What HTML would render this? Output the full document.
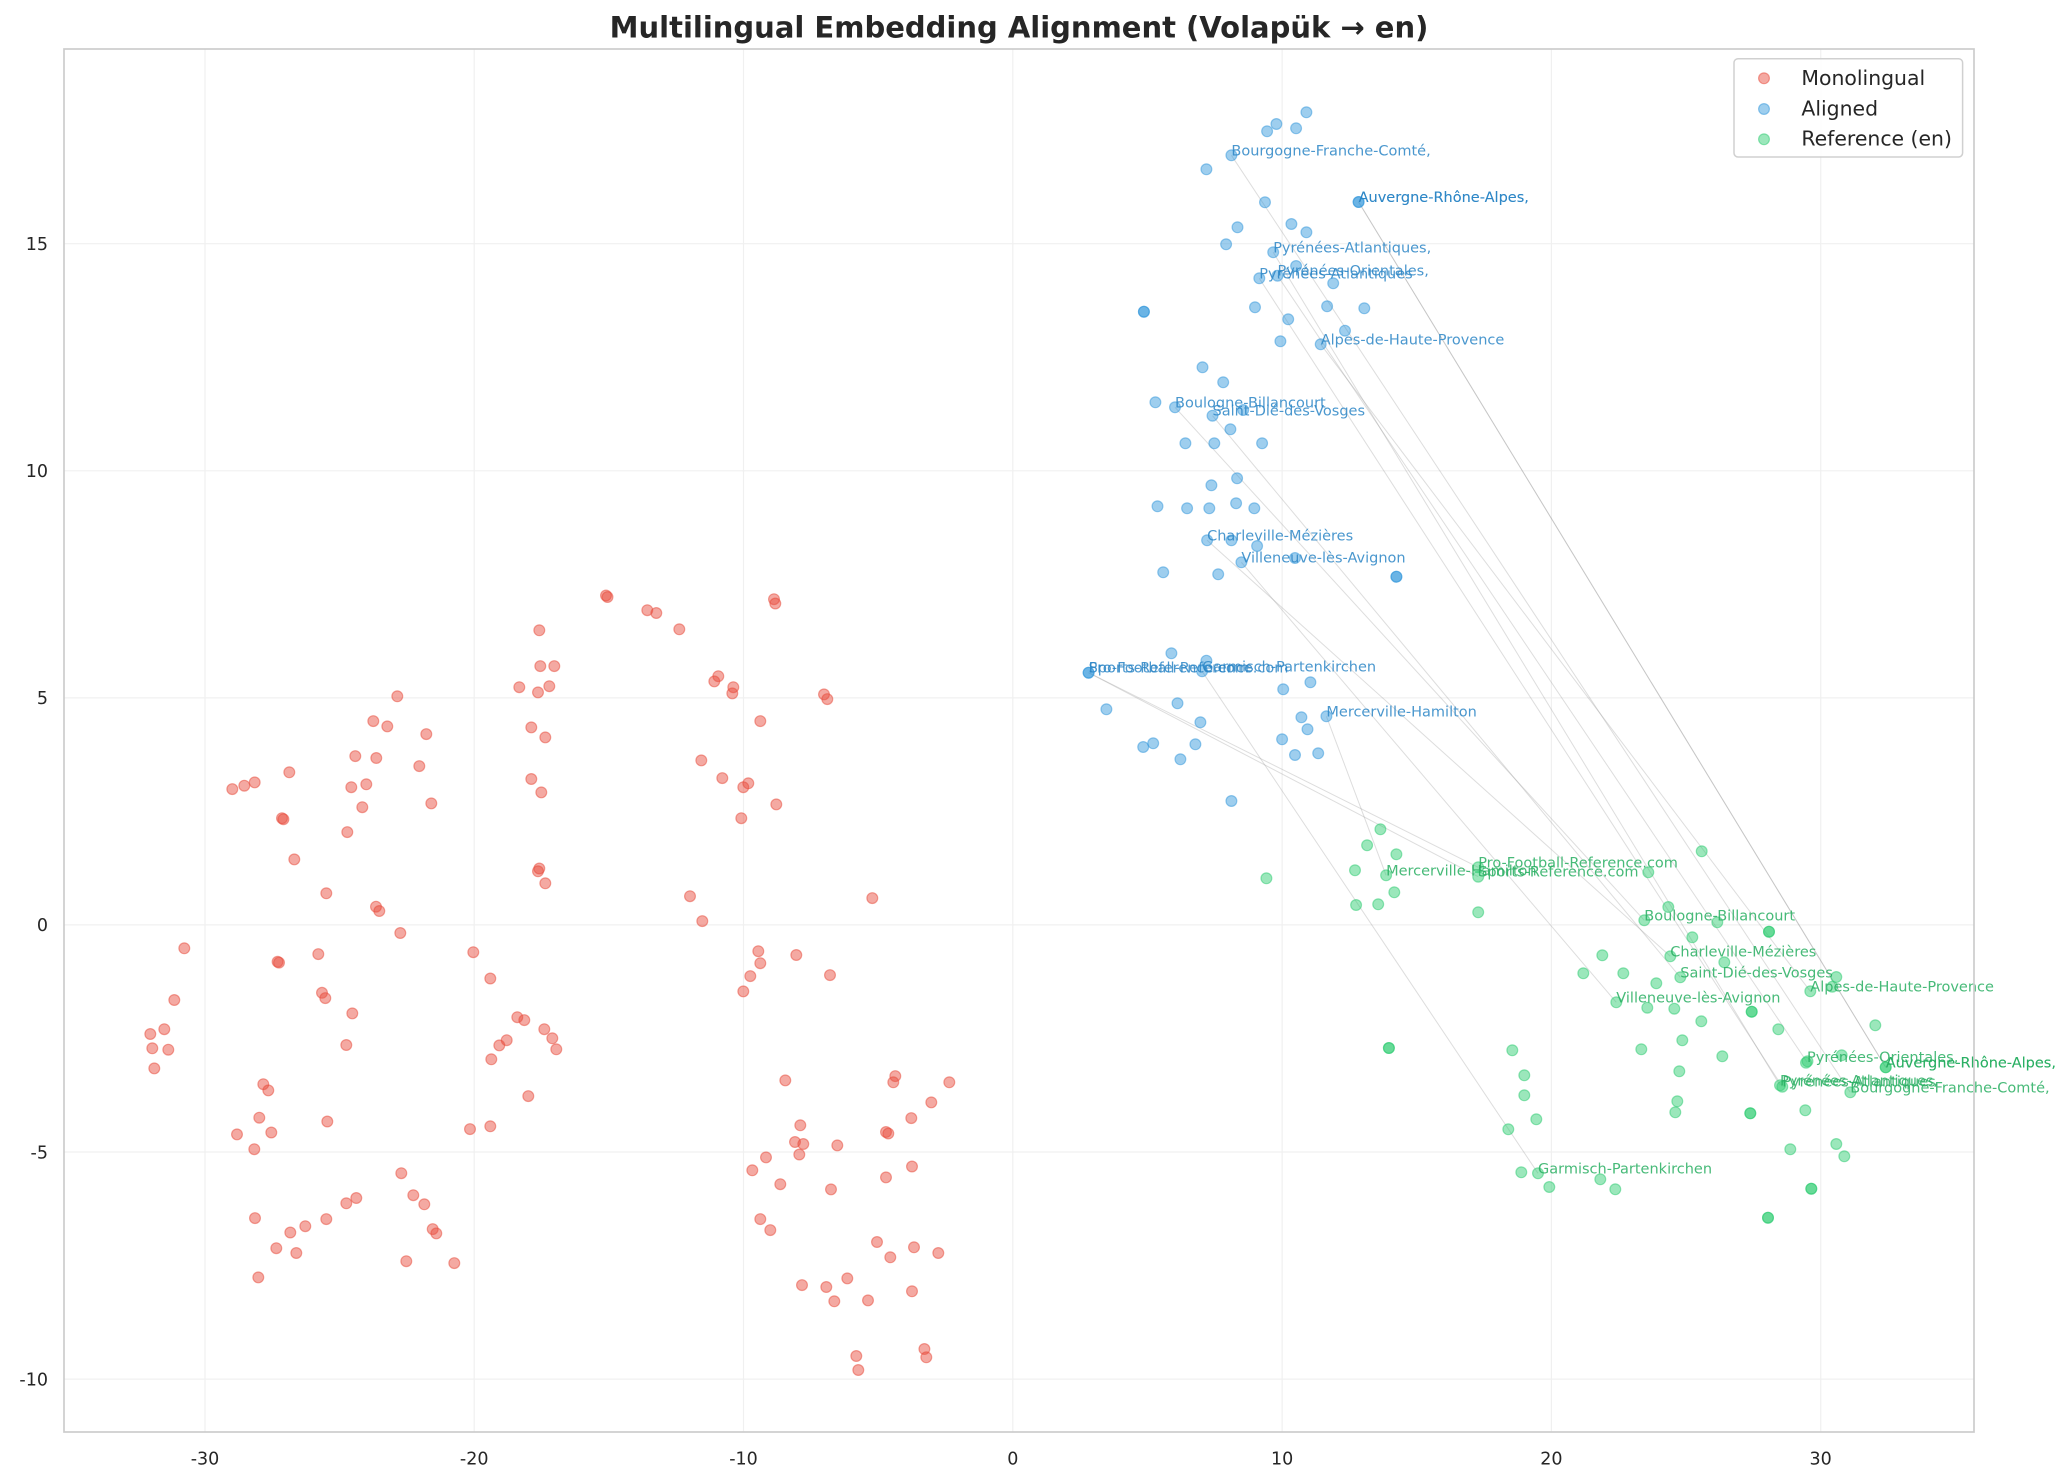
<!DOCTYPE html>
<html><head><meta charset="utf-8"><style>
html,body{margin:0;padding:0;background:#fff}
svg{display:block}
.r{fill:#e74c3c;fill-opacity:.48;stroke:#e74c3c;stroke-opacity:.5;stroke-width:1.2}
.b{fill:#3498db;fill-opacity:.48;stroke:#3498db;stroke-opacity:.5;stroke-width:1.2}
.g{fill:#2ecc71;fill-opacity:.48;stroke:#2ecc71;stroke-opacity:.5;stroke-width:1.2}
.ln line{stroke:#999;stroke-opacity:.33;stroke-width:1}
.gr line{stroke:#f0f0f0;stroke-width:1.2}
text{font-family:"DejaVu Sans","Liberation Sans",sans-serif}
.tk{font-size:17.5px;fill:#262626}
.lb{font-size:14.5px;fill:#2a85c6;fill-opacity:.85}
.lg{font-size:14.5px;fill:#27ae60;fill-opacity:.85}
</style></head><body>
<svg width="2072" height="1483" viewBox="0 0 2072 1483" xmlns="http://www.w3.org/2000/svg">
<rect width="2072" height="1483" fill="#fff"/>
<g class="gr">
<line x1="205" y1="49" x2="205" y2="1432"/><line x1="474.2" y1="49" x2="474.2" y2="1432"/><line x1="743.5" y1="49" x2="743.5" y2="1432"/><line x1="1012.8" y1="49" x2="1012.8" y2="1432"/><line x1="1282.1" y1="49" x2="1282.1" y2="1432"/><line x1="1551.4" y1="49" x2="1551.4" y2="1432"/><line x1="1820.7" y1="49" x2="1820.7" y2="1432"/>
<line x1="64" y1="243.7" x2="1974" y2="243.7"/><line x1="64" y1="470.8" x2="1974" y2="470.8"/><line x1="64" y1="697.9" x2="1974" y2="697.9"/><line x1="64" y1="924.9" x2="1974" y2="924.9"/><line x1="64" y1="1152" x2="1974" y2="1152"/><line x1="64" y1="1379.1" x2="1974" y2="1379.1"/>
</g>
<g class="ln">
<line x1="1231.4" y1="155.3" x2="1850.3" y2="1092.3"/>
<line x1="1358.6" y1="202" x2="1885.7" y2="1067.3"/>
<line x1="1358.6" y1="202" x2="1885.7" y2="1067.3"/>
<line x1="1273.2" y1="252.3" x2="1780" y2="1085.3"/>
<line x1="1277.5" y1="275.7" x2="1807" y2="1062"/>
<line x1="1259.3" y1="278.3" x2="1782.3" y2="1086.7"/>
<line x1="1320.7" y1="344.3" x2="1810.3" y2="991.3"/>
<line x1="1175" y1="407.3" x2="1644.3" y2="920.3"/>
<line x1="1212.5" y1="415.7" x2="1680.3" y2="977.3"/>
<line x1="1207.1" y1="540.3" x2="1670.3" y2="956.3"/>
<line x1="1241.4" y1="562.3" x2="1616.3" y2="1002.3"/>
<line x1="1088.6" y1="672.7" x2="1478.2" y2="867.3"/>
<line x1="1088.6" y1="672.7" x2="1478.2" y2="876.7"/>
<line x1="1202.1" y1="671.3" x2="1538" y2="1173.3"/>
<line x1="1326.4" y1="716.3" x2="1386.1" y2="875.3"/>
</g>
<g class="r">
<circle cx="606" cy="595.5" r="5.4"/><circle cx="607.5" cy="597" r="5.4"/><circle cx="539.3" cy="630.3" r="5.4"/><circle cx="540.3" cy="666.1" r="5.4"/><circle cx="554.3" cy="666.1" r="5.4"/><circle cx="519.3" cy="687.2" r="5.4"/><circle cx="538" cy="692.4" r="5.4"/><circle cx="549.3" cy="686.2" r="5.4"/><circle cx="397.3" cy="696.3" r="5.4"/><circle cx="373.3" cy="721.1" r="5.4"/><circle cx="387.3" cy="726.4" r="5.4"/><circle cx="426.3" cy="734.1" r="5.4"/><circle cx="355.3" cy="756.1" r="5.4"/><circle cx="376.3" cy="758" r="5.4"/><circle cx="419.3" cy="766.1" r="5.4"/><circle cx="289.3" cy="772.3" r="5.4"/><circle cx="232.3" cy="789.1" r="5.4"/><circle cx="244.3" cy="785.7" r="5.4"/><circle cx="254.7" cy="782.4" r="5.4"/><circle cx="351.3" cy="787.2" r="5.4"/><circle cx="366.3" cy="784.3" r="5.4"/><circle cx="531.3" cy="727.4" r="5.4"/><circle cx="545.3" cy="737.4" r="5.4"/><circle cx="531.3" cy="779" r="5.4"/><circle cx="541.3" cy="792.4" r="5.4"/><circle cx="362.3" cy="807.2" r="5.4"/><circle cx="431.3" cy="803.4" r="5.4"/><circle cx="282" cy="818.2" r="5.4"/><circle cx="283.4" cy="819.2" r="5.4"/><circle cx="347.3" cy="832.1" r="5.4"/><circle cx="294.3" cy="859.4" r="5.4"/><circle cx="539.3" cy="868.5" r="5.4"/><circle cx="538" cy="871.3" r="5.4"/><circle cx="545.3" cy="883.3" r="5.4"/><circle cx="326.3" cy="893.3" r="5.4"/><circle cx="376" cy="906.7" r="5.4"/><circle cx="379.3" cy="911" r="5.4"/><circle cx="400.3" cy="933" r="5.4"/><circle cx="184.3" cy="948.3" r="5.4"/><circle cx="277.6" cy="961.8" r="5.4"/><circle cx="279" cy="962.6" r="5.4"/><circle cx="318.3" cy="954.1" r="5.4"/><circle cx="473.3" cy="952.2" r="5.4"/><circle cx="174.3" cy="1000" r="5.4"/><circle cx="490.3" cy="978.5" r="5.4"/><circle cx="322" cy="992.8" r="5.4"/><circle cx="325.3" cy="998.1" r="5.4"/><circle cx="352.3" cy="1013.4" r="5.4"/><circle cx="150.3" cy="1034" r="5.4"/><circle cx="164.3" cy="1029.2" r="5.4"/><circle cx="152.3" cy="1048.3" r="5.4"/><circle cx="168.3" cy="1049.7" r="5.4"/><circle cx="154.3" cy="1068.4" r="5.4"/><circle cx="346.3" cy="1045" r="5.4"/><circle cx="517.3" cy="1017.2" r="5.4"/><circle cx="524.3" cy="1020.1" r="5.4"/><circle cx="544.3" cy="1029.2" r="5.4"/><circle cx="552.3" cy="1038.3" r="5.4"/><circle cx="556.3" cy="1049.3" r="5.4"/><circle cx="506.7" cy="1040.2" r="5.4"/><circle cx="499.3" cy="1045.4" r="5.4"/><circle cx="491.3" cy="1059.3" r="5.4"/><circle cx="263.3" cy="1084.2" r="5.4"/><circle cx="268.3" cy="1090.4" r="5.4"/><circle cx="528.3" cy="1096.1" r="5.4"/><circle cx="259.3" cy="1117.7" r="5.4"/><circle cx="327.3" cy="1121.5" r="5.4"/><circle cx="237" cy="1134.4" r="5.4"/><circle cx="271.3" cy="1132.5" r="5.4"/><circle cx="254.3" cy="1149.2" r="5.4"/><circle cx="470" cy="1129.1" r="5.4"/><circle cx="490.3" cy="1126.3" r="5.4"/><circle cx="401.3" cy="1173.2" r="5.4"/><circle cx="413.3" cy="1195.2" r="5.4"/><circle cx="424.3" cy="1204.3" r="5.4"/><circle cx="346.3" cy="1203.3" r="5.4"/><circle cx="356.3" cy="1198" r="5.4"/><circle cx="255" cy="1218.1" r="5.4"/><circle cx="326.3" cy="1219.1" r="5.4"/><circle cx="305.3" cy="1226.2" r="5.4"/><circle cx="290.3" cy="1232.5" r="5.4"/><circle cx="432.7" cy="1229.1" r="5.4"/><circle cx="436.3" cy="1233.4" r="5.4"/><circle cx="276.3" cy="1248.2" r="5.4"/><circle cx="296.3" cy="1253" r="5.4"/><circle cx="406.3" cy="1261.2" r="5.4"/><circle cx="454.3" cy="1263.1" r="5.4"/><circle cx="258.3" cy="1277.4" r="5.4"/>
<circle cx="647.3" cy="610.2" r="5.4"/><circle cx="656.3" cy="613" r="5.4"/><circle cx="774" cy="599.2" r="5.4"/><circle cx="775.3" cy="603.5" r="5.4"/><circle cx="679.3" cy="629.3" r="5.4"/><circle cx="718.3" cy="676.2" r="5.4"/><circle cx="714.3" cy="681.4" r="5.4"/><circle cx="733.3" cy="687.2" r="5.4"/><circle cx="732.3" cy="693.4" r="5.4"/><circle cx="824" cy="694.4" r="5.4"/><circle cx="827.3" cy="699.1" r="5.4"/><circle cx="760.3" cy="721.1" r="5.4"/><circle cx="701.3" cy="760.4" r="5.4"/><circle cx="722.3" cy="778.1" r="5.4"/><circle cx="748.3" cy="783.3" r="5.4"/><circle cx="743.3" cy="787.2" r="5.4"/><circle cx="776.3" cy="804.4" r="5.4"/><circle cx="741.3" cy="818.2" r="5.4"/><circle cx="690" cy="896.2" r="5.4"/><circle cx="702.3" cy="921.1" r="5.4"/><circle cx="872.3" cy="898.1" r="5.4"/><circle cx="758.3" cy="951.2" r="5.4"/><circle cx="760.3" cy="963.2" r="5.4"/><circle cx="796.3" cy="955" r="5.4"/><circle cx="750.3" cy="976.1" r="5.4"/><circle cx="743.3" cy="991.4" r="5.4"/><circle cx="830" cy="975.1" r="5.4"/><circle cx="785.3" cy="1080.4" r="5.4"/><circle cx="895.3" cy="1076.1" r="5.4"/><circle cx="893.3" cy="1082.3" r="5.4"/><circle cx="949.3" cy="1082.3" r="5.4"/><circle cx="931.3" cy="1102.4" r="5.4"/><circle cx="911.3" cy="1118.1" r="5.4"/><circle cx="800.3" cy="1125.3" r="5.4"/><circle cx="886" cy="1132" r="5.4"/><circle cx="888.3" cy="1133.5" r="5.4"/><circle cx="795" cy="1142" r="5.4"/><circle cx="803.3" cy="1144" r="5.4"/><circle cx="837.3" cy="1145.4" r="5.4"/><circle cx="799.3" cy="1154.5" r="5.4"/><circle cx="766" cy="1157.4" r="5.4"/><circle cx="752.3" cy="1170.3" r="5.4"/><circle cx="912" cy="1166.5" r="5.4"/><circle cx="780.3" cy="1184.2" r="5.4"/><circle cx="831" cy="1189.4" r="5.4"/><circle cx="886" cy="1177.4" r="5.4"/><circle cx="760.3" cy="1219.1" r="5.4"/><circle cx="770.3" cy="1230.1" r="5.4"/><circle cx="877" cy="1242" r="5.4"/><circle cx="914" cy="1247.3" r="5.4"/><circle cx="938.3" cy="1253" r="5.4"/><circle cx="890.3" cy="1257.3" r="5.4"/><circle cx="847.3" cy="1278.4" r="5.4"/><circle cx="802" cy="1285.1" r="5.4"/><circle cx="826.3" cy="1287" r="5.4"/><circle cx="834.3" cy="1301.3" r="5.4"/><circle cx="868" cy="1300.4" r="5.4"/><circle cx="912" cy="1291.3" r="5.4"/><circle cx="924.4" cy="1349" r="5.4"/><circle cx="926.3" cy="1357.3" r="5.4"/><circle cx="856.3" cy="1356" r="5.4"/><circle cx="858.3" cy="1370" r="5.4"/>
</g>
<g class="b">
<circle cx="1306.4" cy="112.3" r="5.4"/><circle cx="1276.4" cy="124" r="5.4"/><circle cx="1267.1" cy="131.3" r="5.4"/><circle cx="1296.1" cy="128.3" r="5.4"/><circle cx="1231.4" cy="155.3" r="5.4"/><circle cx="1206.4" cy="169.3" r="5.4"/><circle cx="1265" cy="202.3" r="5.4"/><circle cx="1358.6" cy="202" r="5.4"/><circle cx="1358.6" cy="202" r="5.4"/><circle cx="1237.5" cy="227.3" r="5.4"/><circle cx="1291.4" cy="224" r="5.4"/><circle cx="1306.4" cy="232.3" r="5.4"/><circle cx="1226.1" cy="244.3" r="5.4"/><circle cx="1273.2" cy="252.3" r="5.4"/><circle cx="1296.1" cy="266" r="5.4"/><circle cx="1277.5" cy="275.7" r="5.4"/><circle cx="1259.3" cy="278.3" r="5.4"/><circle cx="1333.2" cy="283.3" r="5.4"/><circle cx="1143.9" cy="311.7" r="5.4"/><circle cx="1143.9" cy="311.7" r="5.4"/><circle cx="1255" cy="307.3" r="5.4"/><circle cx="1327.1" cy="306.3" r="5.4"/><circle cx="1364.3" cy="308.3" r="5.4"/><circle cx="1288.2" cy="319.3" r="5.4"/><circle cx="1345" cy="330.7" r="5.4"/><circle cx="1280.4" cy="341.3" r="5.4"/><circle cx="1320.7" cy="344.3" r="5.4"/><circle cx="1202.5" cy="367.3" r="5.4"/><circle cx="1223.2" cy="382.3" r="5.4"/><circle cx="1155.4" cy="402.3" r="5.4"/><circle cx="1175" cy="407.3" r="5.4"/><circle cx="1243.2" cy="410" r="5.4"/><circle cx="1212.5" cy="415.7" r="5.4"/><circle cx="1230.4" cy="429.3" r="5.4"/><circle cx="1185.4" cy="443.3" r="5.4"/><circle cx="1214.3" cy="443.3" r="5.4"/><circle cx="1262.1" cy="443.3" r="5.4"/><circle cx="1237.1" cy="478.3" r="5.4"/><circle cx="1211.4" cy="485.3" r="5.4"/><circle cx="1157.5" cy="506.3" r="5.4"/><circle cx="1187.1" cy="508.3" r="5.4"/><circle cx="1209.3" cy="508.3" r="5.4"/><circle cx="1236.1" cy="503.3" r="5.4"/><circle cx="1254.3" cy="508.3" r="5.4"/><circle cx="1207.1" cy="540.3" r="5.4"/><circle cx="1231.4" cy="540.3" r="5.4"/><circle cx="1257.1" cy="546" r="5.4"/><circle cx="1295" cy="558" r="5.4"/><circle cx="1241.4" cy="562.3" r="5.4"/><circle cx="1163.2" cy="572.3" r="5.4"/><circle cx="1218.2" cy="574.3" r="5.4"/><circle cx="1396.4" cy="576.7" r="5.4"/><circle cx="1396.4" cy="576.7" r="5.4"/>
<circle cx="1088.6" cy="672.7" r="5.4"/><circle cx="1088.6" cy="672.7" r="5.4"/><circle cx="1171.4" cy="653.3" r="5.4"/><circle cx="1206.4" cy="660.7" r="5.4"/><circle cx="1202.1" cy="671.3" r="5.4"/><circle cx="1283.2" cy="689.3" r="5.4"/><circle cx="1310.4" cy="682.3" r="5.4"/><circle cx="1106.4" cy="709.3" r="5.4"/><circle cx="1177.5" cy="703.3" r="5.4"/><circle cx="1200.4" cy="722.3" r="5.4"/><circle cx="1301.4" cy="717.3" r="5.4"/><circle cx="1326.4" cy="716.3" r="5.4"/><circle cx="1307.5" cy="729.3" r="5.4"/><circle cx="1143.2" cy="747" r="5.4"/><circle cx="1153.2" cy="743.3" r="5.4"/><circle cx="1195.4" cy="744.3" r="5.4"/><circle cx="1180.4" cy="759.3" r="5.4"/><circle cx="1282.1" cy="739.3" r="5.4"/><circle cx="1295" cy="755" r="5.4"/><circle cx="1318.2" cy="753.3" r="5.4"/><circle cx="1231.4" cy="801" r="5.4"/>
</g>
<g class="g">
<circle cx="1380.4" cy="829.3" r="5.4"/><circle cx="1367.1" cy="845.3" r="5.4"/><circle cx="1396.4" cy="854.3" r="5.4"/><circle cx="1355" cy="870.3" r="5.4"/><circle cx="1386.1" cy="875.3" r="5.4"/><circle cx="1266.4" cy="878.3" r="5.4"/><circle cx="1394.3" cy="892.3" r="5.4"/><circle cx="1356.1" cy="905" r="5.4"/><circle cx="1378.2" cy="904.3" r="5.4"/><circle cx="1478.2" cy="867.3" r="5.4"/><circle cx="1478.2" cy="876.7" r="5.4"/><circle cx="1478.2" cy="912.3" r="5.4"/><circle cx="1388.9" cy="1048" r="5.4"/><circle cx="1388.9" cy="1048" r="5.4"/>
<circle cx="1512.3" cy="1050.3" r="5.4"/><circle cx="1524.3" cy="1075.3" r="5.4"/><circle cx="1524.3" cy="1095.3" r="5.4"/><circle cx="1536.3" cy="1119.3" r="5.4"/><circle cx="1508.3" cy="1129.3" r="5.4"/><circle cx="1521.3" cy="1172.3" r="5.4"/><circle cx="1538" cy="1173.3" r="5.4"/><circle cx="1549.3" cy="1187" r="5.4"/>
<circle cx="1701.7" cy="851.3" r="5.4"/><circle cx="1648.3" cy="872.3" r="5.4"/><circle cx="1668.3" cy="907" r="5.4"/><circle cx="1644.3" cy="920.3" r="5.4"/><circle cx="1717.3" cy="922.3" r="5.4"/><circle cx="1769" cy="931.7" r="5.4"/><circle cx="1769" cy="931.7" r="5.4"/><circle cx="1692.3" cy="937.3" r="5.4"/><circle cx="1602.3" cy="955.3" r="5.4"/><circle cx="1670.3" cy="956.3" r="5.4"/><circle cx="1724.3" cy="962.3" r="5.4"/><circle cx="1583.3" cy="973.3" r="5.4"/><circle cx="1623.3" cy="973.3" r="5.4"/><circle cx="1680.3" cy="977.3" r="5.4"/><circle cx="1656.3" cy="983.3" r="5.4"/><circle cx="1836.3" cy="977" r="5.4"/><circle cx="1832.3" cy="986.7" r="5.4"/><circle cx="1810.3" cy="991.3" r="5.4"/><circle cx="1616.3" cy="1002.3" r="5.4"/><circle cx="1647.3" cy="1007.7" r="5.4"/><circle cx="1674.3" cy="1008.7" r="5.4"/><circle cx="1751.7" cy="1011.7" r="5.4"/><circle cx="1751.7" cy="1011.7" r="5.4"/><circle cx="1701.3" cy="1021.3" r="5.4"/><circle cx="1778.3" cy="1029.3" r="5.4"/><circle cx="1875.3" cy="1025.3" r="5.4"/><circle cx="1682.3" cy="1040.3" r="5.4"/><circle cx="1641.3" cy="1049.3" r="5.4"/><circle cx="1722.3" cy="1056.3" r="5.4"/><circle cx="1841.7" cy="1055.3" r="5.4"/><circle cx="1806" cy="1062.7" r="5.4"/><circle cx="1807.5" cy="1061.3" r="5.4"/><circle cx="1885.7" cy="1067.3" r="5.4"/><circle cx="1885.7" cy="1067.3" r="5.4"/><circle cx="1679.3" cy="1071.3" r="5.4"/><circle cx="1780" cy="1085.3" r="5.4"/><circle cx="1782.3" cy="1086.7" r="5.4"/><circle cx="1850.3" cy="1092.3" r="5.4"/><circle cx="1677.3" cy="1101.3" r="5.4"/><circle cx="1675.3" cy="1112.3" r="5.4"/><circle cx="1750.3" cy="1113.3" r="5.4"/><circle cx="1750.3" cy="1113.3" r="5.4"/><circle cx="1805.3" cy="1110.3" r="5.4"/><circle cx="1790.3" cy="1149.3" r="5.4"/><circle cx="1836.3" cy="1144" r="5.4"/><circle cx="1844.3" cy="1156.3" r="5.4"/><circle cx="1600.3" cy="1179.3" r="5.4"/><circle cx="1615.3" cy="1189.3" r="5.4"/><circle cx="1811.3" cy="1188.7" r="5.4"/><circle cx="1811.3" cy="1188.7" r="5.4"/><circle cx="1768" cy="1217.7" r="5.4"/><circle cx="1768" cy="1217.7" r="5.4"/>
</g>
<g class="lb">
<text x="1231.4" y="155.3">Bourgogne-Franche-Comté,</text>
<text x="1358.6" y="202">Auvergne-Rhône-Alpes,</text>
<text x="1358.6" y="202">Auvergne-Rhône-Alpes,</text>
<text x="1273.2" y="252.3">Pyrénées-Atlantiques,</text>
<text x="1277.5" y="275.7">Pyrénées-Orientales,</text>
<text x="1259.3" y="278.3">Pyrénées-Atlantiques</text>
<text x="1320.7" y="344.3">Alpes-de-Haute-Provence</text>
<text x="1175" y="407.3">Boulogne-Billancourt</text>
<text x="1212.5" y="415.7">Saint-Dié-des-Vosges</text>
<text x="1207.1" y="540.3">Charleville-Mézières</text>
<text x="1241.4" y="562.3">Villeneuve-lès-Avignon</text>
<text x="1088.6" y="672.7">Pro-Football-Reference.com</text>
<text x="1088.6" y="672.7">Sports-Reference.com</text>
<text x="1202.1" y="671.3">Garmisch-Partenkirchen</text>
<text x="1326.4" y="716.3">Mercerville-Hamilton</text>
</g>
<g class="lg">
<text x="1850.3" y="1092.3">Bourgogne-Franche-Comté,</text>
<text x="1885.7" y="1067.3">Auvergne-Rhône-Alpes,</text>
<text x="1885.7" y="1067.3">Auvergne-Rhône-Alpes,</text>
<text x="1780" y="1085.3">Pyrénées-Atlantiques,</text>
<text x="1807" y="1062">Pyrénées-Orientales,</text>
<text x="1782.3" y="1086.7">Pyrénées-Atlantiques</text>
<text x="1810.3" y="991.3">Alpes-de-Haute-Provence</text>
<text x="1644.3" y="920.3">Boulogne-Billancourt</text>
<text x="1680.3" y="977.3">Saint-Dié-des-Vosges</text>
<text x="1670.3" y="956.3">Charleville-Mézières</text>
<text x="1616.3" y="1002.3">Villeneuve-lès-Avignon</text>
<text x="1478.2" y="867.3">Pro-Football-Reference.com</text>
<text x="1478.2" y="876.7">Sports-Reference.com</text>
<text x="1538" y="1173.3">Garmisch-Partenkirchen</text>
<text x="1386.1" y="875.3">Mercerville-Hamilton</text>
</g>
<rect x="64" y="49" width="1910" height="1383" fill="none" stroke="#cccccc" stroke-width="1.7"/>
<g class="tk" text-anchor="middle">
<text x="205" y="1464.5">-30</text><text x="474.2" y="1464.5">-20</text><text x="743.5" y="1464.5">-10</text><text x="1012.8" y="1464.5">0</text><text x="1282.1" y="1464.5">10</text><text x="1551.4" y="1464.5">20</text><text x="1820.7" y="1464.5">30</text>
</g>
<g class="tk" text-anchor="end">
<text x="48" y="250">15</text><text x="48" y="477.1">10</text><text x="48" y="704.2">5</text><text x="48" y="931.2">0</text><text x="48" y="1158.3">-5</text><text x="48" y="1385.4">-10</text>
</g>
<text x="1019" y="37.7" text-anchor="middle" font-size="29" font-weight="bold" fill="#262626">Multilingual Embedding Alignment (Volapük → en)</text>
<rect x="1734" y="58.7" width="228.6" height="98.3" rx="4" fill="#fff" fill-opacity="0.85" stroke="#d0d0d0" stroke-width="1.5"/>
<circle class="r" cx="1764" cy="78.3" r="5.4"/>
<circle class="b" cx="1764" cy="109" r="5.4"/>
<circle class="g" cx="1764" cy="139.3" r="5.4"/>
<g font-size="20.4" fill="#262626">
<text x="1801.4" y="85">Monolingual</text>
<text x="1801.4" y="115.5">Aligned</text>
<text x="1801.4" y="145.5">Reference (en)</text>
</g>
</svg>
</body></html>
